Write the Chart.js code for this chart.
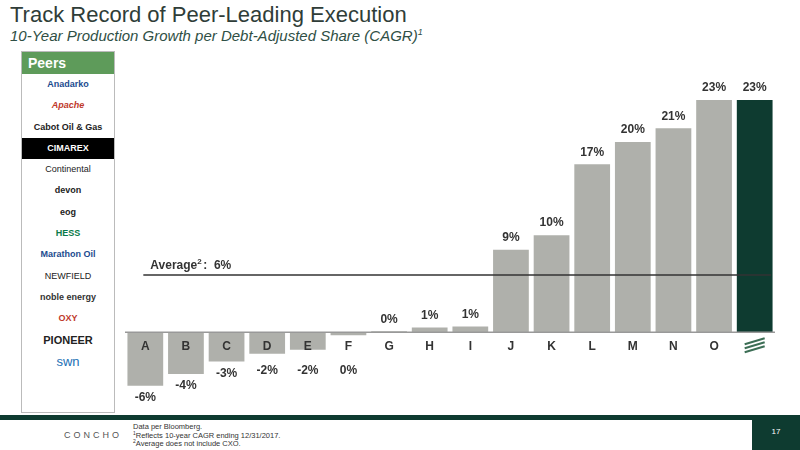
<!DOCTYPE html>
<html><head><meta charset="utf-8">
<script src="https://cdn.jsdelivr.net/npm/chart.js@4"></script>
<style>
body{margin:0;width:800px;height:450px;position:relative;font-family:"Liberation Sans",Arial,sans-serif;background:#fff;overflow:hidden}
.t1{position:absolute;left:10px;top:2px;font-size:22px;color:#2f3d38}
.t2{position:absolute;left:10px;top:27px;font-size:15px;font-style:italic;color:#2f4f45}
.peers{position:absolute;left:21px;top:51px;width:92px;height:360px;border:1px solid #bbb}
.peers .h{background:#5e9b5a;color:#fff;font-weight:bold;font-size:14px;padding:3px 6px;height:16px}
.peers div.l{font-size:9px;text-align:center;height:21.3px;line-height:21px;color:#222;font-weight:bold}
.band{position:absolute;left:0;top:415px;width:800px;height:5px;background:#0e3b30}
.pg{position:absolute;left:752px;top:418px;width:48px;height:32px;background:#0e3b30;color:#fff;font-size:8px;text-align:center;line-height:28px}
.foot{position:absolute;left:133px;top:423px;font-size:7.5px;line-height:8.5px;color:#333}
.foot sup{line-height:0;font-size:5px}
.logo{position:absolute;left:64px;top:430px;font-size:9px;letter-spacing:3px;color:#555}
#wrap{position:absolute;left:125px;top:70px;width:650px;height:340px}
</style></head><body>
<div class="t1">Track Record of Peer-Leading Execution</div>
<div class="t2">10-Year Production Growth per Debt-Adjusted Share (CAGR)<sup style="font-size:9px">1</sup></div>
<div class="peers"><div class="h">Peers</div>
<div class="l" style="color:#1b4b8f">Anadarko</div><div class="l" style="color:#c0392b;font-style:italic">Apache</div><div class="l">Cabot Oil &amp; Gas</div><div class="l" style="background:#000;color:#fff">CIMAREX</div><div class="l" style="font-weight:normal">Continental</div><div class="l">devon</div><div class="l">eog</div><div class="l" style="color:#0a7a4a">HESS</div><div class="l" style="color:#1b4b8f">Marathon Oil</div><div class="l" style="font-weight:normal">NEWFIELD</div><div class="l" style="color:#333">noble energy</div><div class="l" style="color:#c0392b">OXY</div><div class="l" style="font-size:11px">PIONEER</div><div class="l" style="color:#1b6fb5;font-size:13px;font-weight:normal">swn</div></div>
<div id="wrap"><canvas id="c"></canvas></div>
<div class="band"></div>
<div class="logo">CONCHO</div>
<div class="foot">Data per Bloomberg.<br><sup>1</sup>Reflects 10-year CAGR ending 12/31/2017.<br><sup>2</sup>Average does not include CXO.</div>
<div class="pg">17</div>
<script>
const categories = ['A','B','C','D','E','F','G','H','I','J','K','L','M','N','O','CXO'];
const growthValues = [-5.5,-4.3,-3.0,-2.2,-1.8,-0.3,0.1,0.5,0.6,8.5,10.0,17.3,19.6,21.0,23.9,23.9];
const valueLabels = ['-6%','-4%','-3%','-2%','-2%','0%','0%','1%','1%','9%','10%','17%','20%','21%','23%','23%'];
const averageValue = 5.9;
const averageLabel = 'Average';

const overlay = {
    id: 'overlay',
    afterDatasetsDraw(chart) {
        const ctx = chart.ctx;
        const y = chart.scales.y;
        const meta = chart.getDatasetMeta(0);
        const y0 = y.getPixelForValue(0);
        ctx.save();
        ctx.strokeStyle = '#999'; ctx.lineWidth = 1.5;
        ctx.beginPath(); ctx.moveTo(chart.chartArea.left, y0); ctx.lineTo(chart.chartArea.right, y0); ctx.stroke();
        const ya = y.getPixelForValue(averageValue);
        ctx.strokeStyle = '#333'; ctx.lineWidth = 1.5;
        ctx.beginPath(); ctx.moveTo(meta.data[0].x - 2, ya); ctx.lineTo(chart.chartArea.right - 4, ya); ctx.stroke();
        ctx.fillStyle = '#333'; ctx.font = 'bold 12px "Liberation Sans", Arial';
        ctx.textAlign = 'left'; ctx.textBaseline = 'bottom';
        ctx.fillText(averageLabel, meta.data[0].x + 5, ya - 3);
        const w = ctx.measureText(averageLabel).width;
        ctx.font = 'bold 8px "Liberation Sans", Arial';
        ctx.fillText('2', meta.data[0].x + 5 + w, ya - 9);
        ctx.font = 'bold 12px "Liberation Sans", Arial';
        ctx.fillText(':  ' + Math.round(averageValue) + '%', meta.data[0].x + 11 + w, ya - 3);
        ctx.textAlign = 'center';
        meta.data.forEach((bar, i) => {
            const v = growthValues[i];
            ctx.textBaseline = v >= 0 ? 'bottom' : 'top';
            const ty = v >= 0 ? Math.min(bar.y, y0) - 6 : Math.max(bar.y, y0 + 26) + 6;
            ctx.fillText(valueLabels[i], bar.x, ty);
            if (i < 15) { ctx.textBaseline = 'middle'; ctx.fillText(categories[i], bar.x, y0 + 14); }
        });
        // CXO marker
        const last = meta.data[15];
        ctx.strokeStyle = '#3c6e55'; ctx.lineWidth = 2;
        for (let k = 0; k < 3; k++) { ctx.beginPath(); ctx.moveTo(last.x - 10, y0 + 12 + k * 4); ctx.lineTo(last.x + 10, y0 + 6 + k * 4); ctx.stroke(); }
        ctx.restore();
    }
};

new Chart(document.getElementById('c'), {
    type: 'bar',
    data: {
        labels: categories,
        datasets: [{ data: growthValues, backgroundColor: categories.map((c, i) => i === 15 ? '#0e3b30' : '#afb0ab'), categoryPercentage: 0.88, barPercentage: 1 }]
    },
    options: {
        responsive: true, maintainAspectRatio: false, animation: false,
        layout: { padding: 0 },
        plugins: { legend: { display: false }, tooltip: { enabled: false } },
        scales: {
            x: { display: false },
            y: { display: false, min: -8, max: 27 }
        }
    },
    plugins: [overlay]
});
</script>
</body></html>
